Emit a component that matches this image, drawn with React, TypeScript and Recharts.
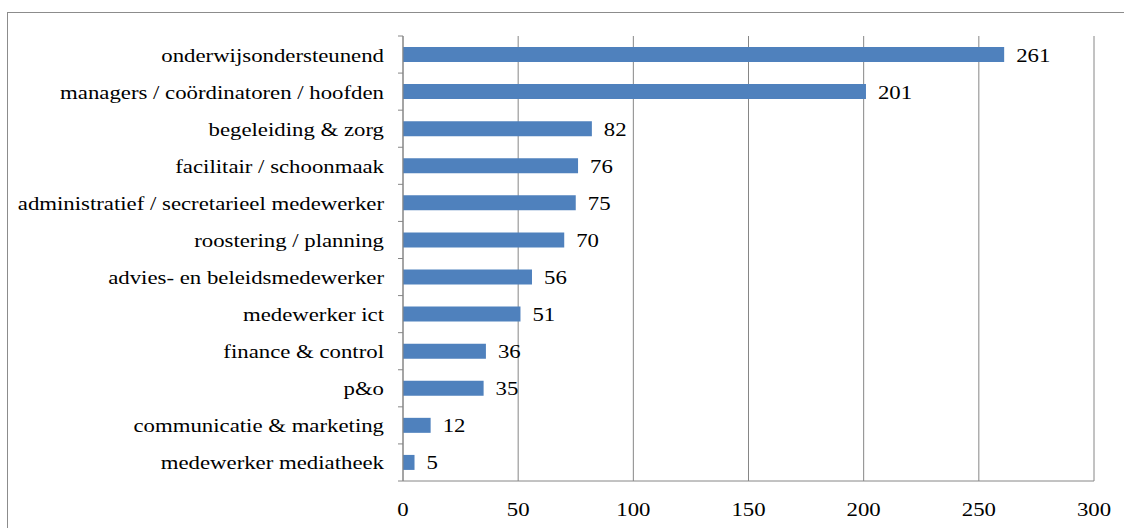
import React from 'react';
import { BarChart, Bar, XAxis, YAxis, CartesianGrid, LabelList } from 'recharts';

const categories = [
  'onderwijsondersteunend',
  'managers / coördinatoren / hoofden',
  'begeleiding & zorg',
  'facilitair / schoonmaak',
  'administratief / secretarieel medewerker',
  'roostering / planning',
  'advies- en beleidsmedewerker',
  'medewerker ict',
  'finance & control',
  'p&o',
  'communicatie & marketing',
  'medewerker mediatheek',
];
const values = [261, 201, 82, 76, 75, 70, 56, 51, 36, 35, 12, 5];
const xTicks = [0, 50, 100, 150, 200, 250, 300];

const data = categories.map((name, i) => ({ name, value: values[i] }));

const W = 1124;
const H = 528;
const M = { top: 36, right: 30, left: 0, bottom: 0 };
const X_AXIS_H = 47;
const Y_AXIS_W = 403;
const PLOT_H = H - M.top - M.bottom - X_AXIS_H;
const BAND = PLOT_H / categories.length;

const FONT = "'Liberation Serif', 'Times New Roman', serif";
const FS = 19;
const SX = 1.2;
const GRID = '#868686';
const BAR = '#4F81BD';
const TS: React.CSSProperties = { fontFamily: FONT, fontSize: FS };

const YTick = (props: any) => {
  const { x, y, payload, index } = props;
  const axisX = x + 14 + 5;
  const last = index === categories.length - 1;
  return (
    <g>
      <line x1={axisX - 5} x2={axisX} y1={y - BAND / 2} y2={y - BAND / 2} stroke={GRID} />
      {last && <line x1={axisX - 5} x2={axisX} y1={y + BAND / 2} y2={y + BAND / 2} stroke={GRID} />}
      <text
        x={0}
        y={0}
        transform={`translate(${x},${y + 7}) scale(${SX},1)`}
        textAnchor="end"
        style={TS}
        fill="#000"
      >
        {payload.value}
      </text>
    </g>
  );
};

const XTick = (props: any) => {
  const { x, y, payload } = props;
  return (
    <text
      x={0}
      y={0}
      transform={`translate(${x},${y + 27}) scale(${SX},1)`}
      textAnchor="middle"
      style={TS}
      fill="#000"
    >
      {payload.value}
    </text>
  );
};

const ValueLabel = (props: any) => {
  const { x, y, width, height, value } = props;
  return (
    <text
      x={0}
      y={0}
      transform={`translate(${x + width + 12},${y + height / 2 + 7}) scale(${SX},1)`}
      textAnchor="start"
      style={TS}
      fill="#000"
    >
      {value}
    </text>
  );
};

export default function App() {
  return (
    <div style={{ position: 'absolute', left: 0, top: 0, width: W, height: H, overflow: 'hidden', background: '#fff', fontFamily: FONT }}>
      <div
        style={{
          position: 'absolute',
          left: 7,
          top: 12,
          width: W + 50,
          height: H + 50,
          border: '1px solid #8c8c8c',
          boxSizing: 'border-box',
        }}
      />
      <div style={{ position: 'absolute', left: 0, top: 0 }}>
        <BarChart width={W} height={H} data={data} layout="vertical" margin={M}>
          <CartesianGrid horizontal={false} vertical={true} stroke={GRID} strokeWidth={1} />
          <XAxis
            type="number"
            domain={[0, 300]}
            ticks={xTicks}
            height={X_AXIS_H}
            axisLine={{ stroke: GRID }}
            tickLine={false}
            tick={<XTick />}
            interval={0}
          />
          <YAxis
            type="category"
            dataKey="name"
            width={Y_AXIS_W}
            axisLine={{ stroke: GRID }}
            tickLine={false}
            tickSize={5}
            tickMargin={14}
            tick={<YTick />}
            interval={0}
          />
          <Bar dataKey="value" fill={BAR} barSize={15} isAnimationActive={false}>
            <LabelList dataKey="value" content={<ValueLabel />} />
          </Bar>
        </BarChart>
      </div>
    </div>
  );
}
